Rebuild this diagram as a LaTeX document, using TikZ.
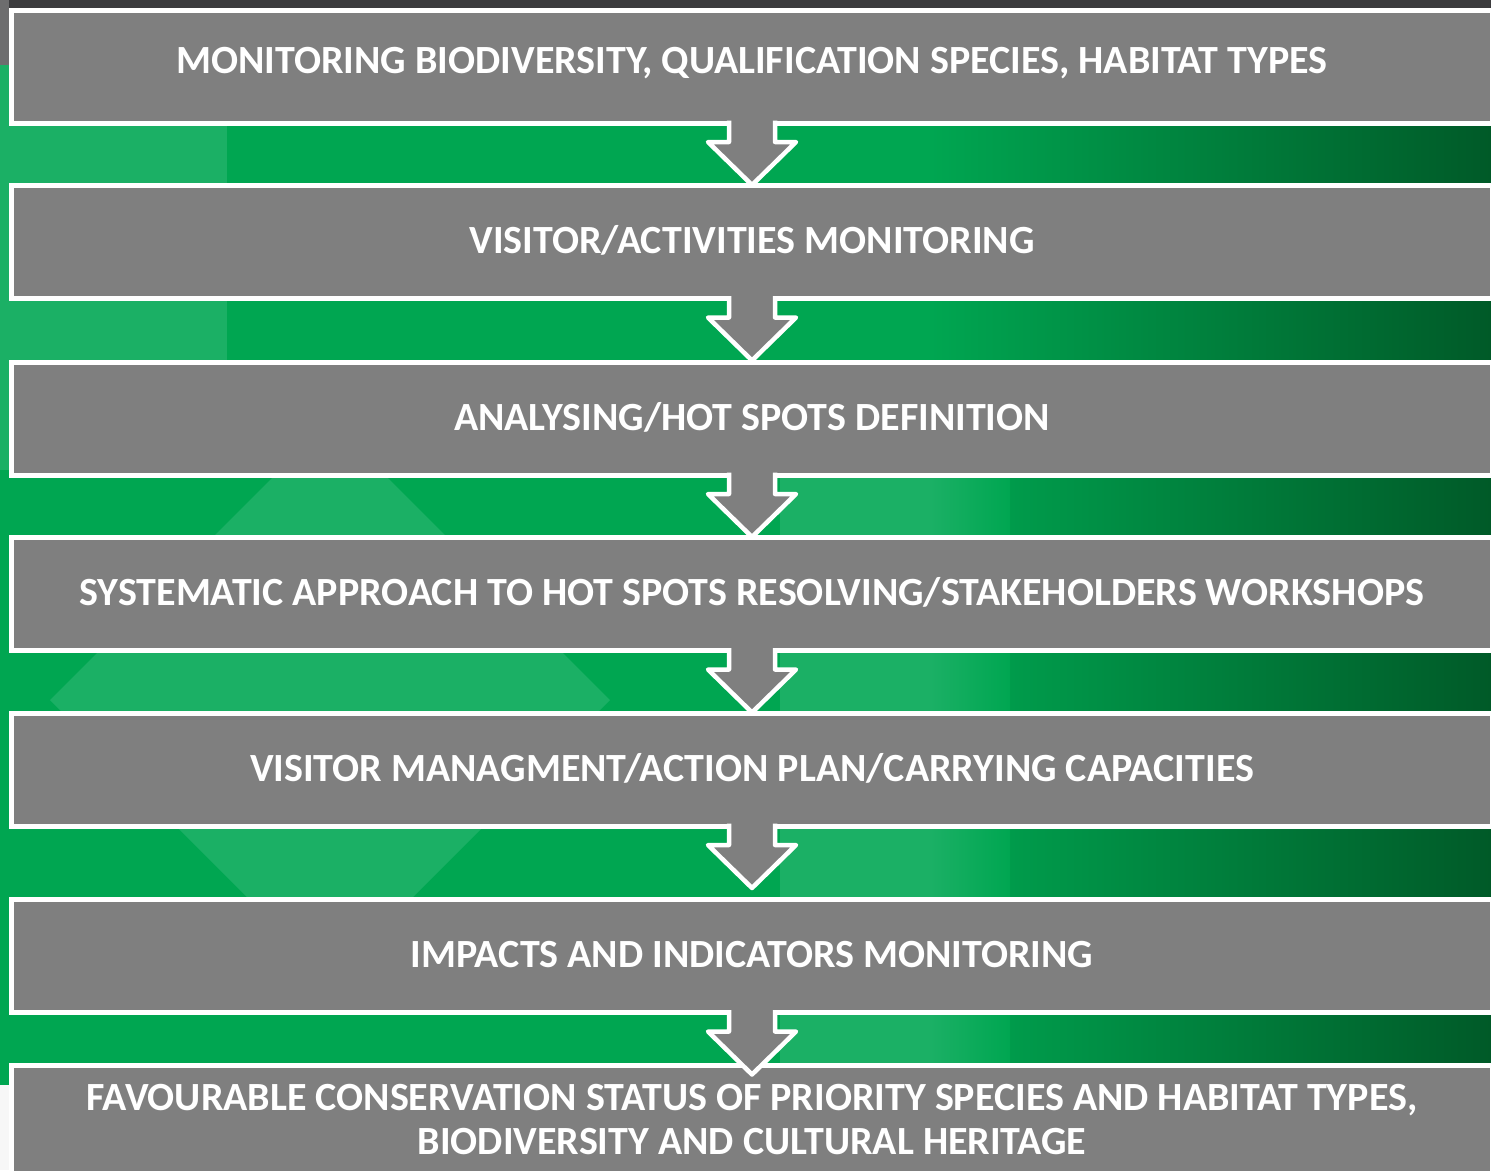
\documentclass[tikz,border=0pt]{standalone}
\usepackage{fontspec}
\setmainfont{Carlito}

\definecolor{boxgray}{HTML}{7F7F7F}
\definecolor{gmid}{HTML}{00A651}
\definecolor{glight}{HTML}{1BB065}
\definecolor{gdark}{HTML}{005A28}
\definecolor{topgray}{HTML}{3C3C3E}

\begin{document}
\begin{tikzpicture}[x=1pt,y=-1pt,
		stagebox/.style={draw=white, fill=boxgray, line width=5pt, outer sep=0pt, inner sep=0pt,
			minimum width=1481pt, minimum height=113pt, text=white,
			font=\fontsize{40}{44}\selectfont\bfseries, text height=25pt, text depth=2pt},
		downarrow/.pic={
			\fill[boxgray] (-23,-3) -- (-23,19) -- (-44,19) -- (0,62) -- (44,19) -- (23,19) -- (23,-3) -- cycle;
			\draw[white, line width=4.5pt, line join=round] (-23,-2.5) -- (-23,19) -- (-44,19) -- (0,62) -- (44,19) -- (23,19) -- (23,-2.5);
		}]
			\useasboundingbox (0,0) rectangle (1491,1170);
			\clip (0,0) rectangle (1491,1170);

			% green background
			\fill[gmid] (0,0) rectangle (1491,1170);
			\fill[glight] (0,60) rectangle (227,470);
			\fill[glight] (50,700) -- (330,420) -- (610,700) -- (330,980) -- cycle;
			\fill[glight] (780,470) rectangle (930,1070);
			\shade[left color=gmid, right color=gdark] (930,0) rectangle (1491,1170);
			\shade[left color=glight, right color=gmid] (930,470) rectangle (1010,1070);

			% top band and corners
			\fill[topgray] (0,0) rectangle (1491,8);
			\fill[topgray!75] (0,0) rectangle (9,65);
			\fill[white!94!gray] (0,1085) rectangle (9,1170);

			% stages
			\node[stagebox, text depth=11pt] (b1) at (752,66.5) {MONITORING BIODIVERSITY, QUALIFICATION SPECIES, HABITAT TYPES};
			\node[stagebox] (b2) at (752,242) {VISITOR/ACTIVITIES MONITORING};
			\node[stagebox] (b3) at (752,418.5) {ANALYSING/HOT SPOTS DEFINITION};
			\node[stagebox] (b4) at (752,594) {SYSTEMATIC APPROACH TO HOT SPOTS RESOLVING/STAKEHOLDERS WORKSHOPS};
			\node[stagebox] (b5) at (752,769.5) {VISITOR MANAGMENT/ACTION PLAN/CARRYING CAPACITIES};
			\node[stagebox] (b6) at (752,956) {IMPACTS AND INDICATORS MONITORING};
			\node[stagebox, minimum height=109pt, text height=, text depth=, align=center] (b7) at (752,1120)
				{FAVOURABLE CONSERVATION STATUS OF PRIORITY SPECIES AND HABITAT TYPES,\\BIODIVERSITY AND CULTURAL HERITAGE};

			% arrows between stages
			\pic at (b1.south) {downarrow};
			\pic at (b2.south) {downarrow};
			\pic at (b3.south) {downarrow};
			\pic at (b4.south) {downarrow};
			\pic at (b5.south) {downarrow};
			\pic at (b6.south) {downarrow};

\end{tikzpicture}
\end{document}
